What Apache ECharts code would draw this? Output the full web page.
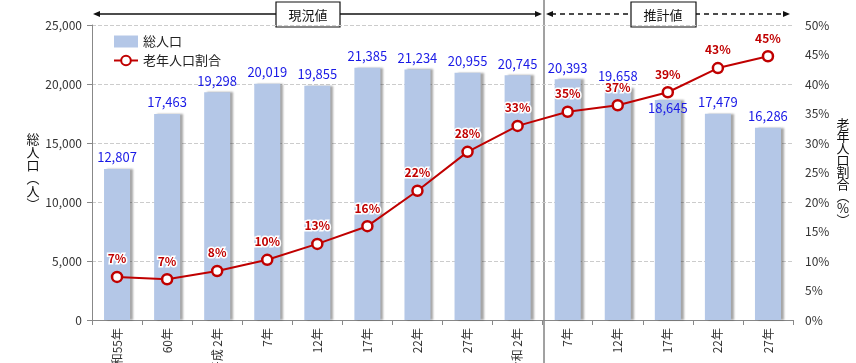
<!DOCTYPE html>
<html><head><meta charset="utf-8">
<script src="https://cdn.jsdelivr.net/npm/echarts@6/dist/echarts.min.js"></script>
<style>html,body{margin:0;padding:0;background:#fff}#c{width:856px;height:363px}</style>
</head><body><div id="c"></div>
<script>
const categories = ['昭和55年','60年','平成 2年','7年','12年','17年','22年','27年','令和 2年','7年','12年','17年','22年','27年'];
const population = [12807,17463,19298,20019,19855,21385,21234,20955,20745,20393,19658,18645,17479,16286];
const elderlyRatio = [7.3,6.9,8.3,10.2,12.9,15.9,21.9,28.5,32.9,35.3,36.4,38.6,42.7,44.7];
const ratioLabels = ['7%','7%','8%','10%','13%','16%','22%','28%','33%','35%','37%','39%','43%','45%'];
const leftTicks = [0,5000,10000,15000,20000,25000];
const rightTicks = [0,5,10,15,20,25,30,35,40,45,50];

const FONT = '"Noto Sans CJK JP","Noto Sans",sans-serif';
const chart = echarts.init(document.getElementById('c'));
const gl = 92, gr = 63, gt = 25, gb = 43;
// the 17年 (projected) population label sits lower in the original to avoid the line
const barData = population.map((v, i) => i === 11 ? {value: v, label: {offset: [0, 20]}} : v);
chart.setOption({
  animation:false,
  textStyle:{fontFamily:FONT},
  grid:{left:gl,right:gr,top:gt,bottom:gb,containLabel:false,outerBoundsMode:'none'},
  legend:{orient:'vertical',left:108,top:30,itemGap:6,itemWidth:24,itemHeight:12,
    textStyle:{fontSize:13,color:'#222',fontFamily:FONT},
    data:[{name:'総人口',icon:'rect',itemStyle:{color:'#b4c7e7'}},{name:'老年人口割合'}]},
  xAxis:{type:'category',data:categories,
    axisLine:{lineStyle:{color:'#888'}},
    axisTick:{show:true,alignWithLabel:false,lineStyle:{color:'#888'}},
    axisLabel:{rotate:90,fontSize:12,color:'#333',interval:0,margin:8,fontFamily:FONT,hideOverlap:false}},
  yAxis:[
    {type:'value',min:0,max:25000,interval:5000,
     axisLine:{show:true,lineStyle:{color:'#888'}},axisTick:{show:true,lineStyle:{color:'#888'}},
     splitLine:{lineStyle:{color:'#ccc',type:'dashed'}},
     axisLabel:{fontSize:12,color:'#333',margin:10,formatter:v=>v.toLocaleString('en-US')}},
    {type:'value',min:0,max:50,interval:5,
     axisLine:{show:false},axisTick:{show:false},splitLine:{show:false},
     axisLabel:{fontSize:12,color:'#333',margin:12,formatter:v=>v+'%'}}
  ],
  series:[
    {name:'総人口',type:'bar',data:barData,barWidth:26,
     itemStyle:{color:'#b4c7e7',shadowColor:'rgba(0,0,0,0.35)',shadowOffsetX:3,shadowOffsetY:0,shadowBlur:2},
     label:{show:true,position:'top',distance:5,color:'#1a1ae6',fontSize:13,fontFamily:FONT,
       formatter:p=>p.value.toLocaleString('en-US')}},
    {name:'老年人口割合',type:'line',yAxisIndex:1,data:elderlyRatio,
     symbol:'circle',symbolSize:10,showAllSymbol:true,
     lineStyle:{color:'#c00000',width:2},
     itemStyle:{color:'#fff',borderColor:'#c00000',borderWidth:2.5},
     label:{show:true,position:'top',distance:6,color:'#c00000',fontSize:12,fontWeight:'bold',
       textBorderColor:'#fff',textBorderWidth:3,fontFamily:FONT,
       formatter:p=>ratioLabels[p.dataIndex]}}
  ],
  graphic:[
    {type:'line',shape:{x1:544,y1:0,x2:544,y2:363},style:{stroke:'#444',lineWidth:1}},
    {type:'line',shape:{x1:98,y1:14,x2:538,y2:14},style:{stroke:'#111',lineWidth:1.5}},
    {type:'polygon',shape:{points:[[93,14],[100,11],[100,17]]},style:{fill:'#111'}},
    {type:'polygon',shape:{points:[[542,14],[535,11],[535,17]]},style:{fill:'#111'}},
    {type:'rect',shape:{x:276,y:2,width:64,height:25},style:{fill:'#fff',stroke:'#111',lineWidth:1.2}},
    {type:'text',x:308,y:15,style:{text:'現況値',fill:'#111',font:'13px '+FONT,align:'center',verticalAlign:'middle'}},
    {type:'line',shape:{x1:551,y1:14,x2:785,y2:14},style:{stroke:'#111',lineWidth:1.5,lineDash:[5,4]}},
    {type:'polygon',shape:{points:[[546,14],[553,11],[553,17]]},style:{fill:'#111'}},
    {type:'polygon',shape:{points:[[790,14],[783,11],[783,17]]},style:{fill:'#111'}},
    {type:'rect',shape:{x:631,y:2,width:65,height:25},style:{fill:'#fff',stroke:'#111',lineWidth:1.2}},
    {type:'text',x:663,y:15,style:{text:'推計値',fill:'#111',font:'13px '+FONT,align:'center',verticalAlign:'middle'}},
    {type:'text',x:33,y:172,style:{text:'総\n人\n口\n︵\n人\n︶',fill:'#111',font:'13px '+FONT,align:'center',verticalAlign:'middle',lineHeight:13}},
    {type:'text',x:843,y:172,style:{text:'老\n年\n人\n口\n割\n合\n︵\n%\n︶',fill:'#111',font:'13px '+FONT,align:'center',verticalAlign:'middle',lineHeight:12}}
  ]
});
</script></body></html>
